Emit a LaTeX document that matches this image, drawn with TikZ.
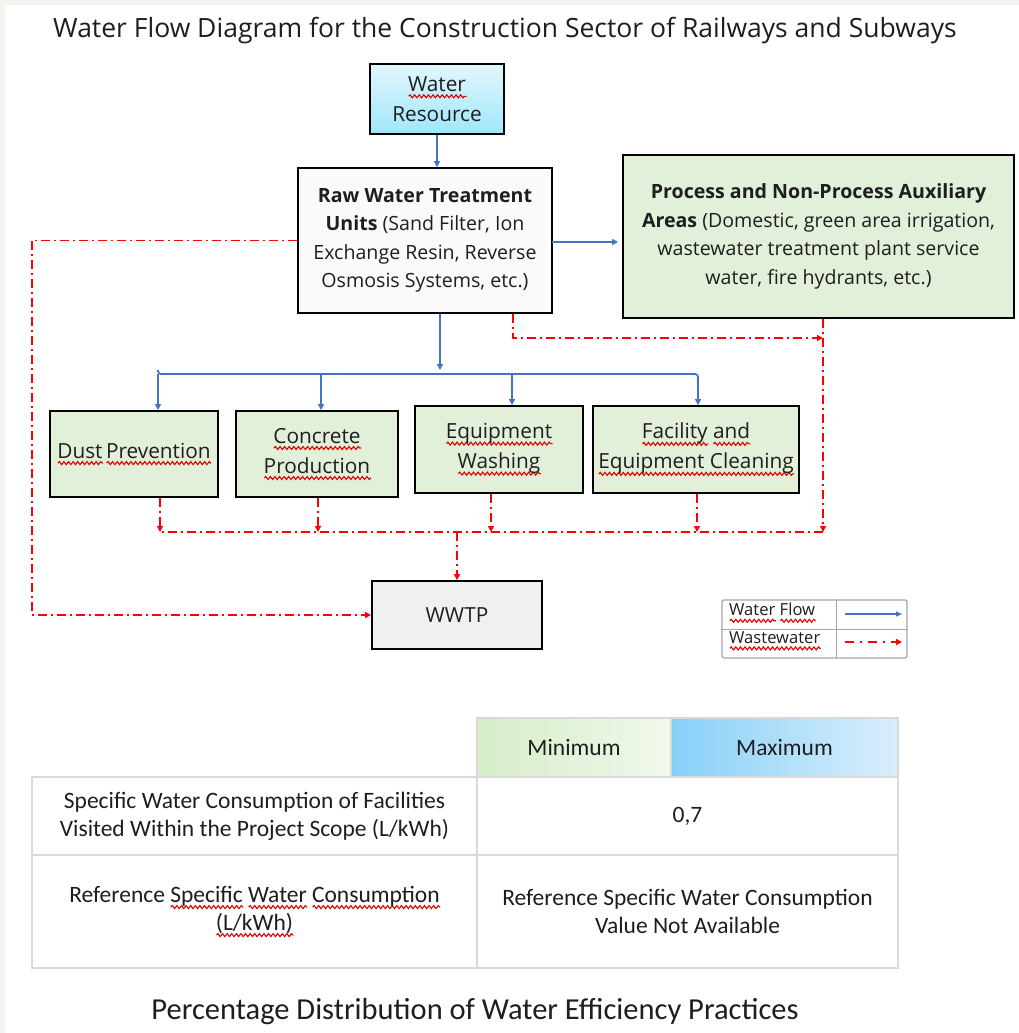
\documentclass[tikz,border=0pt]{standalone}
\usepackage{fontspec}
\setmainfont{Open Sans}
\newfontfamily\tabfont{Carlito}
\usetikzlibrary{arrows.meta,decorations.pathmorphing}
\newsavebox\sqbox
\newlength\sqlen
\newcommand\sqw[1]{\sbox\sqbox{#1}\setlength\sqlen{\wd\sqbox}\leavevmode\rlap{\tikz[baseline=0pt,x=1pt,y=1pt]\draw[red!90!black,line width=1.1pt,decorate,decoration={snake,amplitude=1.5pt,segment length=4.6pt}] (0pt,-5pt) -- (\sqlen,-5pt);}\usebox\sqbox}
\definecolor{flowblue}{HTML}{4472C4}
\definecolor{wasteRed}{HTML}{FF0000}
\definecolor{boxgreen}{HTML}{E2EFD9}
\definecolor{rawfill}{HTML}{FAFAFA}
\definecolor{wwtpfill}{HTML}{F0F0F0}
\definecolor{tabgrey}{HTML}{D9D9D9}
\definecolor{leggrey}{HTML}{A6A6A6}
\definecolor{pagebeige}{HTML}{F4F3EE}
\definecolor{txt}{HTML}{1E1E1E}
\tikzset{
  box/.style={draw=black, line width=1.8pt, align=center, inner sep=0pt, text=txt},
  smallfont/.style={font=\fontsize{20.8}{30}\selectfont},
  bigfont/.style={font=\fontsize{19.6}{28.5}\selectfont},
  flow/.style={draw=flowblue, line width=1.8pt, -{Triangle[length=6pt,width=6pt]}},
  flowline/.style={draw=flowblue, line width=1.8pt},
  waste/.style={draw=wasteRed, line width=1.6pt, dash pattern=on 9pt off 4pt on 2pt off 4pt, -{Triangle[length=6pt,width=6pt]}},
  wasteline/.style={draw=wasteRed, line width=1.6pt, dash pattern=on 9pt off 4pt on 2pt off 4pt},
  cell/.style={draw=tabgrey, line width=2.5pt, align=center, inner sep=0pt, text=txt, font=\tabfont\fontsize{23.5}{28}\selectfont},
}
\begin{document}
\begin{tikzpicture}[x=1pt, y=-1pt]
% page
\fill[pagebeige] (0,0) rectangle (1019,1033);
\fill[white] (5,5) rectangle (1019,1033);
\useasboundingbox (0,0) rectangle (1019,1033);

% title
\node[text=txt, font=\fontsize{26.5}{30}\selectfont] (title) at (505,31) {Water Flow Diagram for the Construction Sector of Railways and Subways};

% boxes
\node[box, smallfont, minimum width=134, minimum height=70, top color={rgb,255:red,226;green,247;blue,253}, bottom color={rgb,255:red,160;green,230;blue,250}] (src) at (437,99) {\sqw{Water}\\Resource};

\node[box, bigfont, fill=rawfill, minimum width=254, minimum height=145] (raw) at (425,240.5)
  {\textbf{Raw Water Treatment}\\\textbf{Units} (Sand Filter, Ion\\Exchange Resin, Reverse\\Osmosis Systems, etc.)};

\node[box, bigfont, fill=boxgreen, minimum width=391, minimum height=163] (proc) at (818.5,236.5)
  {\textbf{Process and Non-Process Auxiliary}\\\textbf{Areas} (Domestic, green area irrigation,\\wastewater treatment plant service\\water, fire hydrants, etc.)};

\node[box, smallfont, fill=boxgreen, minimum width=168, minimum height=86] (dust) at (134,454) {\sqw{Dust}\,\sqw{Prevention}};
\node[box, smallfont, fill=boxgreen, minimum width=162, minimum height=86] (conc) at (317,454) {\sqw{Concrete}\\\sqw{Production}};
\node[box, smallfont, fill=boxgreen, minimum width=168, minimum height=87] (wash) at (499,449.5) {\sqw{Equipment}\\\sqw{Washing}};
\node[box, smallfont, fill=boxgreen, minimum width=206, minimum height=87] (clean) at (696,449.5) {\sqw{Facility} \sqw{and}\\\sqw{Equipment Cleaning}};

\node[box, smallfont, fill=wwtpfill, minimum width=170, minimum height=68] (wwtp) at (457,615) {WWTP};

% blue connectors
\draw[flow] (src.south) -- (src.south |- raw.north);
\coordinate (pe) at (552,242);
\draw[flow] (pe) -- ([xshift=-4pt]pe -| proc.west);
\coordinate (j1) at (440,370);
\coordinate (bd) at (158,374);
\coordinate (bc) at (321,374);
\coordinate (bw) at (512,374);
\coordinate (bf) at (698,374);
\draw[flow] (raw.south -| j1) -- (j1);
\draw[flow, rounded corners=3pt] ([yshift=4pt]bd) -- (bd) -- (bf) -- (bf |- clean.north);
\draw[flow] (bd) -- (bd |- dust.north);
\draw[flow] (bc) -- (bc |- conc.north);
\draw[flow] (bw) -- (bw |- wash.north);

% red connectors
\coordinate (lx) at (32,0);
\draw[waste] (raw.west) -- (raw.west -| lx) -- (wwtp.west -| lx) -- (wwtp.west);
\coordinate (r2) at (513,338);
\coordinate (pr) at (823,338);
\draw[waste] (raw.south -| r2) -- (r2) -- (pr);
\coordinate (wd) at (160,532);
\coordinate (wc) at (318,532);
\coordinate (ww) at (491,532);
\coordinate (wf) at (697,532);
\coordinate (wp) at (823,532);
\coordinate (wt) at (457,532);
\draw[waste] (proc.south -| pr) -- (wp);
\draw[wasteline] (wp) -- (wd);
\draw[waste] (dust.south -| wd) -- (wd);
\draw[waste] (conc.south -| wc) -- (wc);
\draw[waste] (wash.south -| ww) -- (ww);
\draw[waste] (clean.south -| wf) -- (wf);
\draw[waste] (wt) -- (wwtp.north);

% legend
\node[draw=leggrey, line width=1.2pt, rounded corners=2pt, minimum width=185, minimum height=58, inner sep=0pt] (leg) at (814.5,629) {};
\coordinate (lgx) at (836,0);
\draw[draw=leggrey, line width=1pt] (leg.north -| lgx) -- (leg.south -| lgx);
\draw[draw=leggrey, line width=1pt] (leg.west) -- (leg.east);
\node[anchor=west, inner sep=0pt, text=txt, font=\fontsize{16.6}{18}\selectfont] (lwf) at (729,613) {\sqw{Water} \sqw{Flow}};
\node[anchor=west, inner sep=0pt, text=txt, font=\fontsize{16.6}{18}\selectfont] (lww) at (729,641) {\sqw{Wastewater}};
\coordinate (la1) at (845,614);
\coordinate (la2) at (902,614);
\coordinate (lb1) at (845,642);
\coordinate (lb2) at (902,642);
\draw[flowblue, line width=1.3pt, -{Triangle[length=6pt,width=5pt]}] (la1) -- (la2);
\draw[wasteRed, line width=1.6pt, dash pattern=on 9pt off 6pt on 2pt off 6pt, -{Triangle[length=6pt,width=6pt]}] (lb1) -- (lb2);

% table
\node[cell, minimum width=194, minimum height=59, left color={rgb,255:red,214;green,237;blue,200}, right color={rgb,255:red,240;green,248;blue,236}] (hmin) at (574,747.5) {Minimum};
\node[cell, minimum width=227, minimum height=59, left color={rgb,255:red,135;green,208;blue,248}, right color={rgb,255:red,218;green,238;blue,252}] (hmax) at (784.5,747.5) {Maximum};
\node[cell, minimum width=445, minimum height=78] (r1a) at (254.5,816) {Specific Water Consumption of Facilities\\Visited Within the Project Scope (L/kWh)};
\node[cell, minimum width=421, minimum height=78] (r1b) at (687.5,816) {0,7};
\node[cell, minimum width=445, minimum height=113] (r2a) at (254.5,911.5) {Reference \sqw{Specific} \sqw{Water} \sqw{Consumption}\\\sqw{(L/kWh)}};
\node[cell, minimum width=421, minimum height=113] (r2b) at (687.5,911.5) {Reference Specific Water Consumption\\Value Not Available};

\node[text=txt, font=\tabfont\fontsize{30.5}{34}\selectfont] (cap) at (475,1012) {Percentage Distribution of Water Efficiency Practices};
\end{tikzpicture}
\end{document}
